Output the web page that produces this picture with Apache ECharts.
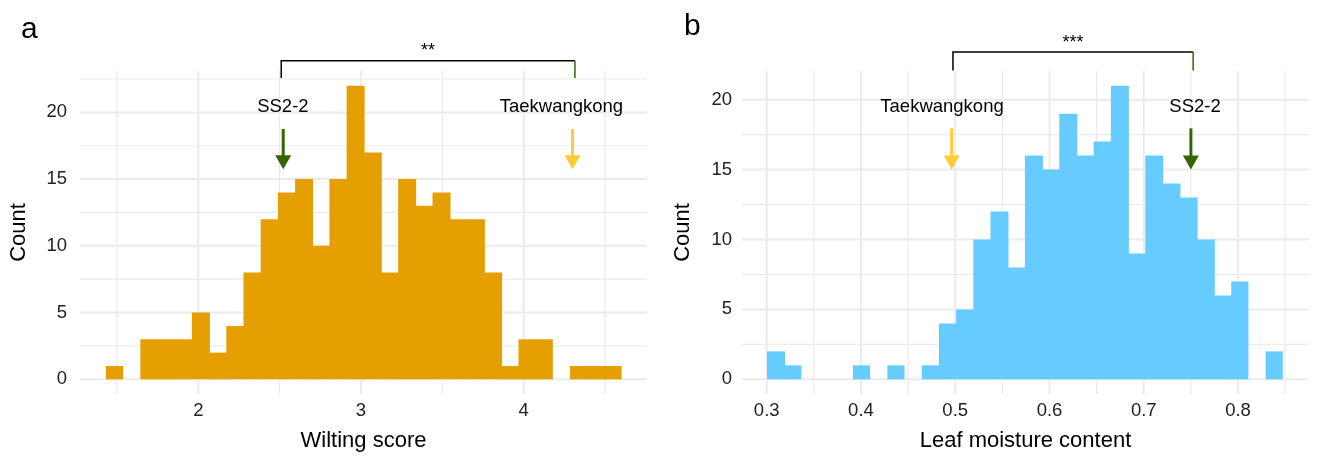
<!DOCTYPE html>
<html><head><meta charset="utf-8">
<script src="https://cdn.jsdelivr.net/npm/echarts@6/dist/echarts.min.js"></script>
<style>html,body{margin:0;padding:0;background:#fff}#c{width:1318px;height:456px}</style>
</head><body><div id="c"></div>
<script>
// ---- data ----
const wiltBinStart = 1.4327;
const wiltBinWidth = 0.10564;
const wiltCounts = [1,0,3,3,3,5,2,4,8,12,14,15,10,15,22,17,8,15,13,14,12,12,8,1,3,3,0,1,1,1];
const moistBinStart = 0.3003;
const moistBinWidth = 0.01824;
const moistCounts = [2,1,0,0,0,1,0,1,0,1,4,5,10,12,8,16,15,19,16,17,21,9,16,14,13,10,6,7,0,2];

const wiltTicksX = [2, 3, 4];
const wiltMinorX = [1.5, 2.5, 3.5, 4.5];
const moistTicksX = [0.3, 0.4, 0.5, 0.6, 0.7, 0.8];
const moistMinorX = [0.35, 0.45, 0.55, 0.65, 0.75, 0.85];
const countTicks = [0, 5, 10, 15, 20];
const countMinor = [2.5, 7.5, 12.5, 17.5, 22.5];

// markers: arrow x, arrow top, arrow tip, label x, label y
const wiltMarkerNames = ['SS2-2', 'Taekwangkong'];
const wiltMarkerX = [2.522, 4.30];
const wiltMarkerLabelX = [2.52, 4.232];
const wiltArrowTop = 18.75, wiltArrowTip = 15.73, wiltLabelY = 20.42;
const moistMarkerNames = ['Taekwangkong', 'SS2-2'];
const moistMarkerX = [0.4963, 0.75];
const moistMarkerLabelX = [0.486, 0.7544];
const moistArrowTop = 17.95, moistArrowTip = 15.0, moistLabelY = 19.47;

// significance brackets: [x1, x2, barY, legY, starY]
const wiltBracket = [2.51, 4.315, 23.87, 22.57, 24.6];
const wiltStars = '**';
const moistBracket = [0.4976, 0.7524, 23.4, 22.09, 24.02];
const moistStars = '***';

// ---- styles ----
const FONT = "'Liberation Sans', Arial, sans-serif";
const GRID_COLOR = '#EBEBEB';
const GREEN = '#336600';
const GOLD = '#FFCC33';

function markerColor(name) { return name === 'SS2-2' ? GREEN : GOLD; }

function gridSeries(idx, majorX, minorX, majorY, minorY) {
  const vData = majorX.map(v => [v, 1]).concat(minorX.map(v => [v, 0]));
  const hData = majorY.map(v => [v, 1]).concat(minorY.map(v => [v, 0]));
  return [
    {
      type: 'custom', xAxisIndex: idx, yAxisIndex: idx, z: 1, silent: true,
      clip: true,
      encode: { x: 0 },
      data: vData,
      renderItem(params, api) {
        const cs = params.coordSys;
        const x = api.coord([api.value(0), 0])[0];
        if (x < cs.x - 0.5 || x > cs.x + cs.width + 0.5) return null;
        return { type: 'line', shape: { x1: x, y1: cs.y, x2: x, y2: cs.y + cs.height },
          style: { stroke: GRID_COLOR, lineWidth: api.value(1) ? 2 : 1.2 } };
      }
    },
    {
      type: 'custom', xAxisIndex: idx, yAxisIndex: idx, z: 1, silent: true,
      clip: true,
      encode: { y: 0 },
      data: hData,
      renderItem(params, api) {
        const cs = params.coordSys;
        const y = api.coord([idx === 0 ? 2 : 0.5, api.value(0)])[1];
        if (y < cs.y - 0.5 || y > cs.y + cs.height + 0.5) return null;
        return { type: 'line', shape: { x1: cs.x, y1: y, x2: cs.x + cs.width, y2: y },
          style: { stroke: GRID_COLOR, lineWidth: api.value(1) ? 2 : 1.2 } };
      }
    }
  ];
}

function histSeries(idx, start, width, counts, color) {
  const data = counts.map((c, i) => [start + i * width, start + (i + 1) * width, c]);
  return {
    type: 'custom', xAxisIndex: idx, yAxisIndex: idx, z: 2,
    encode: { x: [0, 1], y: 2 },
    data,
    renderItem(params, api) {
      const c = api.value(2);
      if (!c) return null;
      const p0 = api.coord([api.value(0), 0]);
      const p1 = api.coord([api.value(1), c]);
      const next = counts[params.dataIndex + 1];
      const overlap = next ? 0.8 : 0;
      return { type: 'rect', shape: { x: p0[0], y: p1[1], width: p1[0] - p0[0] + overlap, height: p0[1] - p1[1] },
        style: { fill: color } };
    }
  };
}

function markerSeries(idx, names, xs, labelXs, top, tip, labelY) {
  const data = names.map((n, i) => [xs[i], top, tip, labelXs[i], labelY]);
  return {
    type: 'custom', xAxisIndex: idx, yAxisIndex: idx, z: 5, clip: false, silent: true,
    encode: { x: [0, 3], y: [1, 2, 4] },
    data,
    renderItem(params, api) {
      const name = names[params.dataIndex];
      const col = markerColor(name);
      const pTop = api.coord([api.value(0), api.value(1)]);
      const pTip = api.coord([api.value(0), api.value(2)]);
      const pLab = api.coord([api.value(3), api.value(4)]);
      const headL = 14, headW = 8;
      return { type: 'group', children: [
        { type: 'line', shape: { x1: pTop[0], y1: pTop[1], x2: pTip[0], y2: pTip[1] - headL + 1 },
          style: { stroke: col, lineWidth: 3 } },
        { type: 'polygon', shape: { points: [[pTip[0] - headW, pTip[1] - headL], [pTip[0] + headW, pTip[1] - headL], [pTip[0], pTip[1]]] },
          style: { fill: col } },
        { type: 'text', x: pLab[0], y: pLab[1],
          style: { text: name, fill: '#000', fontSize: 18.5, fontFamily: FONT, align: 'center', verticalAlign: 'middle' } }
      ] };
    }
  };
}

function bracketSeries(idx, b, stars) {
  return {
    type: 'custom', xAxisIndex: idx, yAxisIndex: idx, z: 5, clip: false, silent: true,
    encode: { x: [0, 1], y: [2, 3, 4] },
    data: [b],
    renderItem(params, api) {
      const a = api.coord([api.value(0), api.value(2)]);
      const c = api.coord([api.value(1), api.value(2)]);
      const aLeg = api.coord([api.value(0), api.value(3)]);
      const cLeg = api.coord([api.value(1), api.value(3)]);
      const s = api.coord([(api.value(0) + api.value(1)) / 2, api.value(4)]);
      return { type: 'group', children: [
        { type: 'polyline', shape: { points: [[aLeg[0], aLeg[1]], [a[0], a[1]], [c[0], c[1]]] },
          style: { stroke: '#000', lineWidth: 1.5, fill: null } },
        { type: 'line', shape: { x1: c[0], y1: c[1], x2: cLeg[0], y2: cLeg[1] },
          style: { stroke: GREEN, lineWidth: 1.5 } },
        { type: 'text', x: s[0], y: s[1],
          style: { text: stars, fill: '#000', fontSize: 18, fontFamily: FONT, align: 'center', verticalAlign: 'middle' } }
      ] };
    }
  };
}

function xAxis(idx, min, max, ticks, name, fmt) {
  return {
    type: 'value', gridIndex: idx, min, max,
    axisLine: { show: false }, axisTick: { show: false }, splitLine: { show: false },
    axisLabel: { customValues: ticks, fontSize: 18.5, color: '#222', fontFamily: FONT, margin: 7, formatter: fmt },
    name, nameLocation: 'middle', nameGap: 36,
    nameTextStyle: { fontSize: 22, color: '#000', fontFamily: FONT }
  };
}
function yAxis(idx, min, max, gap, labMargin) {
  return {
    type: 'value', gridIndex: idx, min, max,
    axisLine: { show: false }, axisTick: { show: false }, splitLine: { show: false },
    axisLabel: { customValues: countTicks, fontSize: 18.5, color: '#222', fontFamily: FONT, margin: labMargin },
    name: 'Count', nameLocation: 'middle', nameGap: gap, nameRotate: 90,
    nameTextStyle: { fontSize: 22, color: '#000', fontFamily: FONT }
  };
}

const chart = echarts.init(document.getElementById('c'), null, { renderer: 'canvas' });
chart.setOption({
  animation: false,
  backgroundColor: '#fff',
  textStyle: { fontFamily: FONT },
  graphic: [
    { type: 'text', left: 21, top: 15, style: { text: 'a', fontSize: 30, fill: '#000', fontFamily: FONT } },
    { type: 'text', left: 684, top: 12, style: { text: 'b', fontSize: 30, fill: '#000', fontFamily: FONT } }
  ],
  grid: [
    { left: 80, top: 71, width: 567, height: 323, containLabel: false, outerBoundsMode: 'none' },
    { left: 742, top: 71, width: 567, height: 323, containLabel: false, outerBoundsMode: 'none' }
  ],
  xAxis: [
    xAxis(0, 1.273, 4.758, wiltTicksX, 'Wilting score', v => String(v)),
    xAxis(1, 0.2738, 0.8753, moistTicksX, 'Leaf moisture content', v => v.toFixed(1))
  ],
  yAxis: [
    yAxis(0, -1.1, 23.1, 50, 13),
    yAxis(1, -1.05, 22.05, 48, 10)
  ],
  series: [
    ...gridSeries(0, wiltTicksX, wiltMinorX, countTicks, countMinor),
    ...gridSeries(1, moistTicksX, moistMinorX, countTicks, countMinor),
    histSeries(0, wiltBinStart, wiltBinWidth, wiltCounts, '#E69F00'),
    histSeries(1, moistBinStart, moistBinWidth, moistCounts, '#66CCFF'),
    markerSeries(0, wiltMarkerNames, wiltMarkerX, wiltMarkerLabelX, wiltArrowTop, wiltArrowTip, wiltLabelY),
    markerSeries(1, moistMarkerNames, moistMarkerX, moistMarkerLabelX, moistArrowTop, moistArrowTip, moistLabelY),
    bracketSeries(0, wiltBracket, wiltStars),
    bracketSeries(1, moistBracket, moistStars)
  ]
});
</script></body></html>
